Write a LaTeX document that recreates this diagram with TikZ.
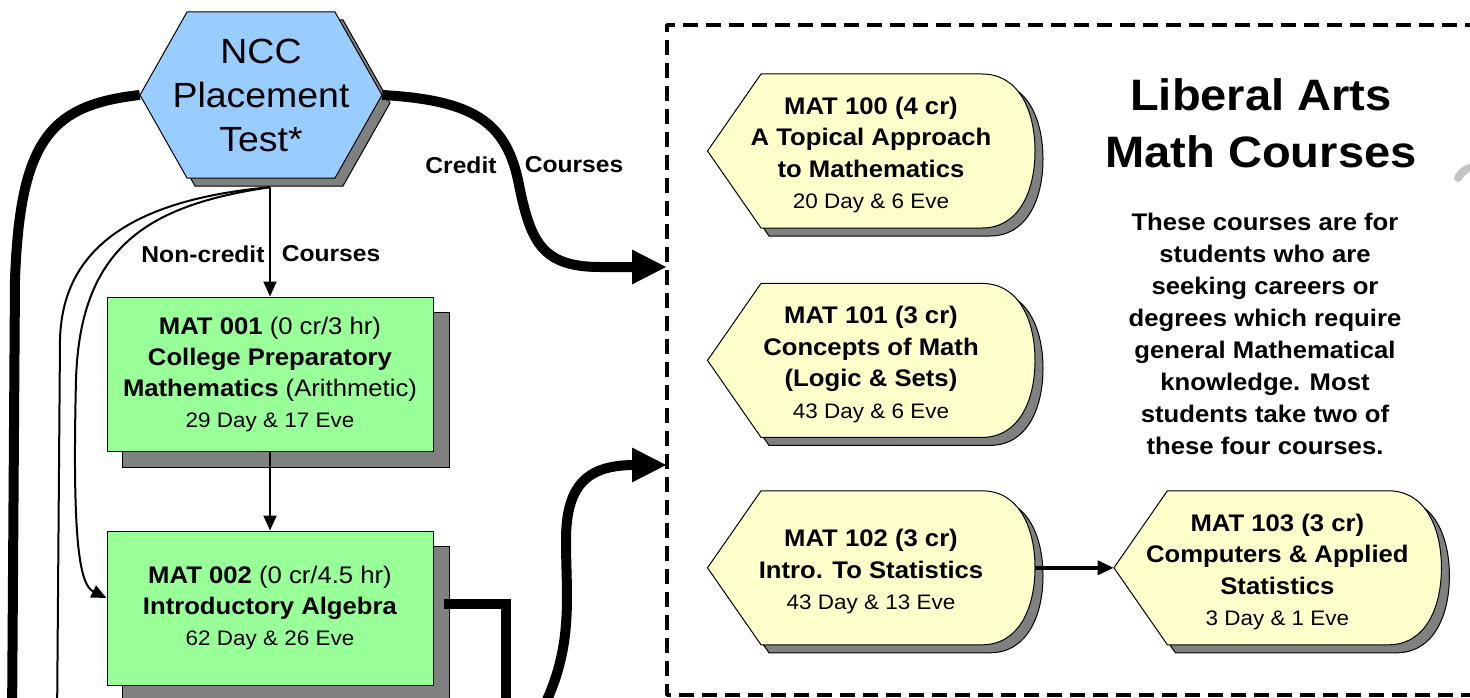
\documentclass[tikz,border=0pt]{standalone}
\usepackage{fontspec}
\setmainfont{Liberation Sans}[FakeStretch=1.07]
\usetikzlibrary{arrows.meta,backgrounds,calc,positioning}

\definecolor{hexblue}{HTML}{99CCFF}
\definecolor{boxgreen}{HTML}{99FF99}
\definecolor{noteyellow}{HTML}{FFFFCC}
\definecolor{shadowgray}{HTML}{808080}
\definecolor{faintgray}{HTML}{C4C4C4}

% outline of the course shapes (pointed left, rounded right)
\newcommand{\dispshape}[1]{\path[#1] (-163.5,0) -- (-110,-77) -- (111,-77) .. controls (148,-77) and (164,-40) .. (164,0) .. controls (164,40) and (148,77) .. (111,77) -- (-110,77) -- cycle;}
\newcommand{\hexshape}[1]{\path[#1] (-121,0) -- (-74,-83) -- (74,-83) -- (121,0) -- (74,83) -- (-74,83) -- cycle;}

\tikzset{
  hexnode/.style={rectangle, minimum width=242pt, minimum height=166pt, inner sep=0pt, align=center, font=\fontsize{35}{44}\selectfont},
  greenbox/.style={rectangle, draw=black, fill=boxgreen, line width=1pt, minimum width=326pt, minimum height=154pt, inner sep=0pt, align=center, font=\fontsize{24}{31}\selectfont},
  dispnode/.style={rectangle, minimum width=327pt, minimum height=154pt, inner sep=0pt, align=center, font=\bfseries\fontsize{24}{31.5}\selectfont},
  lbl/.style={inner sep=0pt, font=\bfseries\fontsize{23}{27}\selectfont},
  shadowshape/.style={fill=shadowgray, draw=black, line width=1pt},
  yellowface/.style={fill=noteyellow, draw=black, line width=1pt},
  hexface/.style={fill=hexblue, draw=black, line width=1pt},
  thickline/.style={line width=10pt},
  thinline/.style={line width=2pt},
  midline/.style={line width=3.5pt},
  frameline/.style={line width=3.5pt, dash pattern=on 15pt off 8pt},
}

\begin{document}
\begin{tikzpicture}[x=1pt, y=-1pt, line join=round]

    \useasboundingbox (0,0) rectangle (1470,698);
    \clip (0,0) rectangle (1470,698);

    % placement test and non-credit courses
    \node[hexnode] (ncc) at (261,95) {NCC\\Placement\\Test*};
    \node[greenbox] (mat001) at (270,374) {\textbf{MAT 001} (0 cr/3 hr)\\\textbf{College Preparatory}\\\textbf{Mathematics} (Arithmetic)\\{\fontsize{21}{31}\selectfont 29 Day \& 17 Eve}};
    \node[greenbox, below=79pt of mat001] (mat002) {\textbf{MAT 002} (0 cr/4.5 hr)\\\textbf{Introductory Algebra}\\{\fontsize{21}{31}\selectfont 62 Day \& 26 Eve}};

    % liberal arts courses (texts sit 4pt below the middle of their shapes)
    \node[dispnode] (mat100) at (871,155) {MAT 100 (4 cr)\\A Topical Approach\\to Mathematics\\{\mdseries\fontsize{21}{31.5}\selectfont 20 Day \& 6 Eve}};
    \node[dispnode, below=55pt of mat100] (mat101) {MAT 101 (3 cr)\\Concepts of Math\\(Logic \& Sets)\\{\mdseries\fontsize{21}{31.5}\selectfont 43 Day \& 6 Eve}};
    \node[dispnode, below=53pt of mat101] (mat102) {MAT 102 (3 cr)\\Intro. To Statistics\\{\mdseries\fontsize{21}{31.5}\selectfont 43 Day \& 13 Eve}};
    \node[dispnode, right=79pt of mat102] (mat103) {MAT 103 (3 cr)\\Computers \& Applied\\Statistics\\{\mdseries\fontsize{21}{31.5}\selectfont 3 Day \& 1 Eve}};

    \node[align=center, inner sep=0pt, font=\bfseries\fontsize{44}{57}\selectfont] (libarts) at (1261,123) {Liberal Arts\\Math Courses};
    \node[align=center, inner sep=0pt, font=\bfseries\fontsize{24}{32}\selectfont] (libnote) at (1265,334) {These courses are for\\students who are\\seeking careers or\\degrees which require\\general Mathematical\\knowledge. Most\\students take two of\\these four courses.};

    % labels
    \node[lbl] (lblcredit) at (461,165) {Credit};
    \node[lbl] (lblcreditc) at (574,165) {Courses};
    \node[lbl] (lblnon) at (203,254) {Non-credit};
    \node[lbl] (lblnonc) at (331,254) {Courses};

    % shapes behind the texts
    \begin{scope}[on background layer]
        \hexshape{shadowshape, shift={($(ncc)+(8,8)$)}}
        \hexshape{hexface, shift={(ncc)}}
        \foreach \n in {mat001,mat002} {
            \path[shadowshape] ($(\n.south west)+(16,16)$) rectangle ($(\n.north east)+(16,16)$);
        }
        \foreach \n in {mat100,mat101,mat102,mat103} {
            \dispshape{shadowshape, shift={($(\n)+(8,4)$)}}
            \dispshape{yellowface, shift={($(\n)+(0,-4)$)}}
        }
    \end{scope}

    % dashed frame round the liberal arts courses
    \draw[frameline] (1480,25) -- (667,25) -- (667,695) -- (1480,695);
    \coordinate (credittop) at (667,267);
    \coordinate (creditlow) at (667,465);

    % ends that run off the picture
    \coordinate (offleft) at (12,725);
    \coordinate (offmid) at (57,725);
    \coordinate (offbar) at (506,725);
    \coordinate (offcurve) at (538,718);
    \coordinate (nccfoot) at ($(mat001.north |- ncc.south)+(0,9)$);

    % connectors
    \draw[thickline, -{Triangle[length=35pt,width=32pt]}] (ncc.east) .. controls (470,100) and (505,120) .. (518,180) .. controls (530,240) and (540,267) .. (600,267) -- (credittop);
    \draw[thickline, -{Triangle[length=35pt,width=32pt]}] (offcurve) .. controls (575,650) and (566,600) .. (566,540) .. controls (566,482) and (590,465) .. (635,465) -- (creditlow);
    \draw[thickline] (ncc.west) .. controls (50,105) and (20,140) .. (15,280) -- (offleft);
    \draw[thickline, line join=miter] ($(mat002.east)+(10,-4)$) -| (offbar);

    \draw[thinline, -{Triangle[length=15pt,width=13pt]}] (nccfoot) -- (mat001.north);
    \draw[thinline, -{Triangle[length=15pt,width=13pt]}] (mat001.south) -- (mat002.north);
    \draw[thinline] (nccfoot) .. controls (130,200) and (62,250) .. (60,340) -- (offmid);
    \draw[thinline, -{Triangle[length=15pt,width=13pt]}] (nccfoot) .. controls (150,205) and (80,245) .. (76,380) .. controls (72,545) and (80,585) .. ($(mat002.west)+(0,-10)$);

    \draw[midline, -{Triangle[length=16pt,width=14pt]}] ($(mat102.east)+(0,-4)$) -- ($(mat103.west)+(0,-4)$);

    % piece of a grey shape at the right border
    \draw[faintgray, line width=8pt, line cap=round] (1458,178) .. controls (1462,171) and (1467,168) .. (1476,166);

\end{tikzpicture}
\end{document}
